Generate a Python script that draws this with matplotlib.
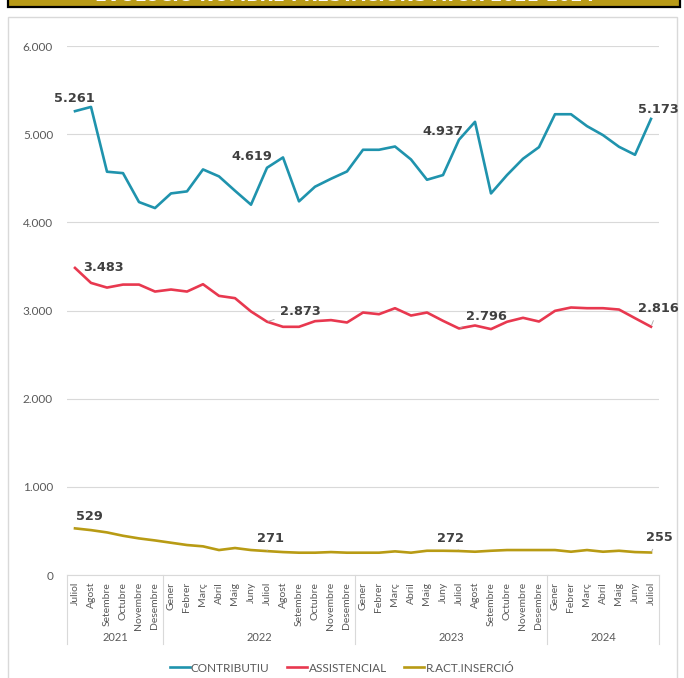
import matplotlib
matplotlib.use("Agg")
import matplotlib.pyplot as plt
from matplotlib.patches import Rectangle
from matplotlib.ticker import FuncFormatter

# months Juliol 2021 .. Juliol 2024
months = ["Juliol", "Agost", "Setembre", "Octubre", "Novembre", "Desembre",
          "Gener", "Febrer", "Març", "Abril", "Maig", "Juny",
          "Juliol", "Agost", "Setembre", "Octubre", "Novembre", "Desembre",
          "Gener", "Febrer", "Març", "Abril", "Maig", "Juny",
          "Juliol", "Agost", "Setembre", "Octubre", "Novembre", "Desembre",
          "Gener", "Febrer", "Març", "Abril", "Maig", "Juny", "Juliol"]
years = ["2021", "2022", "2023", "2024"]
year_counts = [6, 12, 12, 7]

contributiu = [5261, 5309, 4574, 4558, 4230, 4162, 4328, 4351, 4600, 4521, 4358, 4200,
               4619, 4736, 4238, 4404, 4494, 4577, 4823, 4823, 4860, 4713, 4483, 4536,
               4937, 5140, 4328, 4536, 4721, 4853, 5226, 5226, 5091, 4989, 4857, 4766, 5173]
assistencial = [3483, 3313, 3260, 3294, 3294, 3215, 3238, 3215, 3298, 3166, 3140, 2989,
                2873, 2815, 2815, 2879, 2891, 2864, 2977, 2958, 3026, 2943, 2977, 2883,
                2796, 2830, 2789, 2872, 2917, 2875, 2996, 3034, 3026, 3026, 3011, 2913, 2816]
insercio = [529, 509, 483, 445, 415, 392, 366, 340, 325, 283, 306, 283,
            271, 260, 253, 253, 260, 253, 253, 253, 268, 253, 275, 275,
            272, 264, 275, 283, 283, 283, 283, 264, 283, 264, 275, 260, 255]

series = [("CONTRIBUTIU", contributiu, "#1F93AD"),
          ("ASSISTENCIAL", assistencial, "#E8384F"),
          ("R.ACT.INSERCIÓ", insercio, "#B89B14")]

# labelled points: (series index, month index, offset in pixels, leader line)
labels = [(0, 0, (-1, 13), False), (0, 12, (-15, 11), False), (0, 24, (-16, 8), False),
          (0, 36, (7, 9), False),
          (1, 0, (28, 0), False), (1, 12, (33, 10), True), (1, 24, (27, 12), True),
          (1, 36, (7, 18), True),
          (2, 0, (14, 12), True), (2, 12, (4, 13), True), (2, 24, (-8, 13), True),
          (2, 36, (8, 15), True)]

W, H = 684, 678
fig = plt.figure(figsize=(W / 100, H / 100), dpi=100)

# outer chart box and title band (title mostly cropped away, as in the source)
fig.patches.append(Rectangle((8 / W, -0.05), 669 / W, 1.05 - 17 / H, transform=fig.transFigure,
                             facecolor="white", edgecolor="#D9D9D9", lw=1, zorder=-2))
fig.patches.append(Rectangle((8 / W, 1 - 7 / H), 672 / W, 0.05, transform=fig.transFigure,
                             facecolor="#B89A17", edgecolor="black", lw=1.6, zorder=-1))
fig.text(345 / W, 1 - 0.8 / H, "EVOLUCIÓ NOMBRE PRESTACIONS ATUR 2021-2024", color="white",
         fontsize=12.5, fontweight="bold", ha="center", va="baseline", family="DejaVu Sans")

ax = fig.add_axes([67 / W, 1 - 575 / H, 592 / W, 529 / H])
ax.set_zorder(2)
ax.set_facecolor("none")
x = list(range(len(months)))

for name, vals, col in series:
    ax.plot(x, vals, color=col, lw=1.9, label=name, solid_joinstyle="round", zorder=3)

for si, mi, (dx, dy), leader in labels:
    vals = series[si][1]
    txt = f"{vals[mi]:,}".replace(",", ".")
    arrow = dict(arrowstyle="-", color="#A6A6A6", lw=0.6, shrinkA=2, shrinkB=1) if leader else None
    ax.annotate(txt, (mi, vals[mi]), xytext=(dx * 0.72, dy * 0.72), textcoords="offset points",
                ha="center", va="center", fontsize=9.3, fontweight="bold", color="#404040",
                family="DejaVu Sans", arrowprops=arrow, zorder=4)

ax.set_xlim(-0.5, len(months) - 0.5)
ax.set_ylim(0, 6000)
ax.set_yticks(range(0, 6001, 1000))
ax.yaxis.set_major_formatter(FuncFormatter(lambda v, p: f"{int(v):,}".replace(",", ".")))
ax.grid(axis="y", color="#D9D9D9", lw=0.8)
ax.set_axisbelow(True)
for s in ["left", "right", "top"]:
    ax.spines[s].set_visible(False)
ax.spines["bottom"].set_color("#D9D9D9")
ax.tick_params(axis="y", length=0, pad=10, labelsize=8.5, labelcolor="#595959")
ax.set_xticks(x)
ax.set_xticklabels(months, rotation=90, fontsize=7.5, color="#595959", family="Lato")
ax.tick_params(axis="x", length=0, pad=5)
for t in ax.get_yticklabels():
    t.set_family("Lato")

# year groups and separators
trans = ax.get_xaxis_transform()
start = 0
bounds = [-0.5]
for yr, n in zip(years, year_counts):
    ax.text(start + (n - 1) / 2, -0.119, yr, transform=trans, ha="center", va="center",
            fontsize=8, color="#595959", family="Lato")
    start += n
    bounds.append(start - 0.5)
for b in bounds:
    ax.plot([b, b], [0, -0.131], transform=trans, color="#D9D9D9", lw=0.8, clip_on=False)

fig.legend(loc="center", bbox_to_anchor=(0.5, 1 - 668 / H), ncol=3, frameon=False,
           handlelength=1.7, handletextpad=0.1, columnspacing=1.5,
           labelcolor="#595959", prop={"family": "Lato", "size": 8.5})

fig.savefig("out.png", dpi=100)
